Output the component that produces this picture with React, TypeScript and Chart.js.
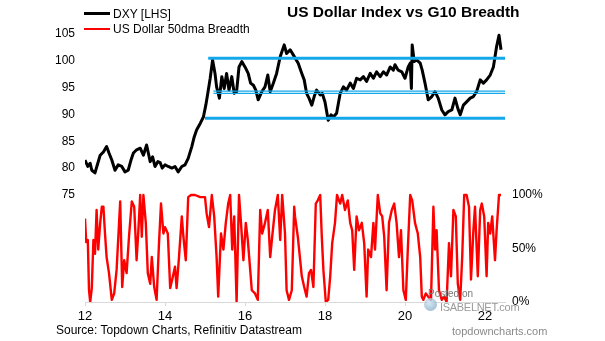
import React, { useEffect, useRef } from "react";
import { Chart, registerables } from "chart.js";

Chart.register(...registerables);

const FONT = "'Liberation Sans', Arial, Helvetica, sans-serif";

// ---- DXY (left axis) ----
const dxyDates = [
  2012.00, 2012.07, 2012.13, 2012.17, 2012.25, 2012.32, 2012.38, 2012.46, 2012.54, 2012.60,
  2012.67, 2012.75, 2012.83, 2012.92, 2013.00, 2013.08, 2013.15, 2013.21, 2013.29, 2013.38,
  2013.46, 2013.54, 2013.63, 2013.69, 2013.75, 2013.82, 2013.88, 2013.93, 2014.00, 2014.08,
  2014.17, 2014.25, 2014.33, 2014.42, 2014.50, 2014.58, 2014.67, 2014.73, 2014.79, 2014.88,
  2014.96, 2015.02, 2015.07, 2015.13, 2015.19, 2015.25, 2015.29, 2015.36, 2015.42, 2015.48,
  2015.54, 2015.60, 2015.67, 2015.73, 2015.79, 2015.85, 2015.92, 2016.00, 2016.08, 2016.14,
  2016.21, 2016.27, 2016.33, 2016.42, 2016.50, 2016.57, 2016.63, 2016.71, 2016.79, 2016.88,
  2016.98, 2017.04, 2017.13, 2017.21, 2017.33, 2017.42, 2017.48, 2017.54, 2017.60, 2017.67,
  2017.73, 2017.79, 2017.88, 2017.93, 2018.00, 2018.08, 2018.15, 2018.21, 2018.29, 2018.38,
  2018.46, 2018.54, 2018.63, 2018.71, 2018.79, 2018.88, 2018.96, 2019.04, 2019.13, 2019.21,
  2019.29, 2019.38, 2019.46, 2019.54, 2019.63, 2019.71, 2019.75, 2019.83, 2019.92, 2020.00,
  2020.08, 2020.13, 2020.16, 2020.18, 2020.23, 2020.29, 2020.38, 2020.43, 2020.50, 2020.58,
  2020.67, 2020.75, 2020.83, 2020.92, 2021.00, 2021.08, 2021.17, 2021.25, 2021.32, 2021.38,
  2021.46, 2021.54, 2021.63, 2021.71, 2021.79, 2021.88, 2021.96, 2022.04, 2022.13, 2022.21,
  2022.29, 2022.35, 2022.40,
];
const dxyValues = [
  81.5, 80.3, 80.9, 79.6, 79.1, 80.9, 82.4, 83.0, 84.0, 82.8,
  81.5, 79.6, 80.6, 80.3, 79.3, 79.6, 81.5, 82.8, 83.4, 83.7,
  82.4, 84.3, 81.2, 82.1, 80.3, 81.2, 81.0, 80.0, 80.6, 80.3,
  80.0, 80.3, 79.3, 80.3, 80.6, 81.8, 84.0, 85.8, 87.1, 88.3,
  89.5, 91.7, 93.9, 96.7, 100.1, 97.6, 95.1, 93.0, 97.0, 94.8,
  97.6, 94.5, 97.0, 93.9, 94.2, 98.8, 99.8, 98.8, 97.6, 95.8,
  95.4, 94.5, 92.7, 94.2, 95.1, 97.3, 94.2, 95.8, 97.6, 100.7,
  102.9, 101.3, 102.0, 101.0, 99.5, 97.6, 96.4, 93.9, 93.0, 91.7,
  93.3, 94.5, 93.6, 93.9, 92.3, 88.9, 89.9, 89.5, 90.2, 93.9,
  95.1, 94.5, 95.8, 94.8, 96.7, 96.4, 97.0, 96.1, 97.6, 96.7,
  97.9, 97.0, 97.9, 97.3, 98.8, 98.2, 99.2, 98.2, 97.9, 96.7,
  98.8, 99.5, 94.8, 102.9, 99.8, 100.1, 99.5, 98.2, 95.8, 92.7,
  93.3, 94.2, 93.0, 90.8, 89.9, 90.5, 90.8, 93.0, 91.1, 89.9,
  91.7, 92.3, 93.0, 93.3, 94.2, 96.4, 95.8, 96.4, 97.3, 98.8,
  102.6, 104.7, 102.0,
];

// ---- US Dollar 50dma Breadth (right axis, %) ----
const breadthDates = [
  2012.00, 2012.03, 2012.07, 2012.10, 2012.13, 2012.17, 2012.21, 2012.25, 2012.29, 2012.33,
  2012.38, 2012.42, 2012.46, 2012.50, 2012.54, 2012.60, 2012.67, 2012.73, 2012.79, 2012.88,
  2012.93, 2012.98, 2013.04, 2013.10, 2013.17, 2013.23, 2013.29, 2013.33, 2013.38, 2013.42,
  2013.46, 2013.52, 2013.57, 2013.63, 2013.67, 2013.73, 2013.79, 2013.85, 2013.90, 2013.96,
  2014.00, 2014.07, 2014.13, 2014.18, 2014.25, 2014.29, 2014.35, 2014.42, 2014.46, 2014.52,
  2014.58, 2014.65, 2014.75, 2014.88, 2015.00, 2015.04, 2015.10, 2015.17, 2015.23, 2015.29,
  2015.33, 2015.40, 2015.46, 2015.52, 2015.58, 2015.63, 2015.68, 2015.73, 2015.79, 2015.85,
  2015.90, 2015.96, 2016.02, 2016.07, 2016.13, 2016.17, 2016.25, 2016.32, 2016.38, 2016.43,
  2016.50, 2016.57, 2016.63, 2016.68, 2016.75, 2016.82, 2016.88, 2016.93, 2017.00, 2017.04,
  2017.10, 2017.17, 2017.23,
  2017.25, 2017.32, 2017.38, 2017.42, 2017.48, 2017.54, 2017.60, 2017.65, 2017.71, 2017.77,
  2017.82, 2017.88, 2017.92, 2017.96, 2018.02, 2018.08, 2018.13, 2018.18, 2018.25, 2018.30,
  2018.38, 2018.43, 2018.50, 2018.57, 2018.63, 2018.68, 2018.73, 2018.79, 2018.85, 2018.92,
  2018.98, 2019.04, 2019.08, 2019.15, 2019.21, 2019.25, 2019.32, 2019.38, 2019.43, 2019.48,
  2019.54, 2019.60, 2019.67, 2019.73, 2019.79, 2019.85, 2019.90, 2019.96, 2020.02, 2020.07,
  2020.13, 2020.18, 2020.25, 2020.32, 2020.38, 2020.42, 2020.46, 2020.52, 2020.58, 2020.65,
  2020.71, 2020.75, 2020.79, 2020.85, 2020.92, 2020.98, 2021.04, 2021.10, 2021.15, 2021.21,
  2021.27, 2021.32, 2021.38, 2021.43, 2021.48, 2021.54, 2021.60, 2021.65, 2021.71, 2021.75,
  2021.82, 2021.88, 2021.92, 2021.98, 2022.04, 2022.08, 2022.13, 2022.18, 2022.25, 2022.29,
  2022.35, 2022.40,
];
const breadthValues = [
  78, 56, 58, 11, 0, 13, 58, 45, 86, 49,
  74, 89, 89, 64, 42, 27, 2, 8, 30, 94,
  14, 39, 27, 61, 94, 89, 39, 64, 100, 61,
  100, 74, 27, 17, 42, 14, 2, 55, 92, 64,
  70, 64, 13, 21, 33, 13, 42, 80, 61, 39,
  98, 100, 100, 98, 98, 83, 70, 100, 80, 42,
  5, 64, 49, 74, 92, 100, 49, 80, 0, 100,
  74, 39, 74, 58, 30, 11, 8, 2, 86, 64,
  74, 86, 42, 61, 86, 100, 58, 100, 64, 11,
  2, 11, 89,
  80, 61, 39, 24, 14, 5, 27, 30, 14, 92,
  95, 100, 61, 30, 0, 2, 24, 55, 74, 100,
  92, 100, 86, 95, 74, 67, 30, 80, 67, 74,
  55, 5, 49, 42, 74, 49, 100, 83, 80, 61,
  11, 74, 86, 92, 74, 42, 67, 11, 2, 49,
  100, 95, 74, 64, 42, 5, 2, 8, 5, 2,
  89, 49, 67, 11, 2, 5, 0, 55, 24, 86,
  80, 17, 2, 42, 100, 100, 89, 21, 67, 89,
  24, 86, 92, 80, 24, 74, 64, 80, 39, 67,
  100, 100,
];

// ---- horizontal support / resistance levels ----
const levelValues = [100.4, 94.3, 93.9, 89.25];
const levelStarts = [2015.08, 2015.21, 2015.21, 2015.0];
const levelEnd = 2022.5;

// ---- ticks ----
const xTicks = [2012, 2014, 2016, 2018, 2020, 2022];
const leftTicks = [75, 80, 85, 90, 95, 100, 105];
const rightTicks = [0, 50, 100];

const BLUE = "#14A8EA";

export default function App() {
  const ref = useRef<HTMLCanvasElement>(null);

  useEffect(() => {
    const canvas = ref.current;
    if (!canvas) return;

    const levelSets = levelValues.map((v, i) => ({
      type: "line" as const,
      data: [
        { x: levelStarts[i], y: v },
        { x: levelEnd, y: v },
      ],
      yAxisID: "y",
      borderColor: BLUE,
      borderWidth: i === 0 || i === levelValues.length - 1 ? 3 : 1.3,
      pointRadius: 0,
      tension: 0,
    }));

    const chart = new Chart(canvas, {
      type: "line",
      data: {
        datasets: [
          ...levelSets,
          {
            label: "DXY [LHS]",
            data: dxyDates.map((d, i) => ({ x: d, y: dxyValues[i] })),
            yAxisID: "y",
            borderColor: "#000000",
            borderWidth: 3,
            pointRadius: 0,
            tension: 0,
            borderJoinStyle: "round",
          },
          {
            label: "US Dollar 50dma Breadth",
            data: breadthDates.map((d, i) => ({ x: d, y: breadthValues[i] })),
            yAxisID: "y2",
            borderColor: "#FF0000",
            borderWidth: 2.4,
            pointRadius: 0,
            tension: 0,
            borderJoinStyle: "round",
          },
        ],
      },
      options: {
        responsive: false,
        maintainAspectRatio: false,
        animation: false,
        devicePixelRatio: 1,
        layout: { padding: { top: 28, left: 0, right: 0, bottom: 0 } },
        plugins: {
          legend: { display: false },
          tooltip: { enabled: false },
          title: { display: false },
        },
        scales: {
          x: {
            type: "linear",
            min: 2012,
            max: 2022.5,
            afterBuildTicks: (s: any) => {
              s.ticks = xTicks.map((v) => ({ value: v }));
            },
            afterFit: (s: any) => {
              s.height = 39;
            },
            grid: {
              drawOnChartArea: false,
              drawTicks: true,
              tickLength: 4,
              color: "#d9d9d9",
            },
            border: { display: true, color: "#d9d9d9", width: 1 },
            ticks: {
              padding: 3,
              autoSkip: false,
              maxRotation: 0,
              color: "#000000",
              font: { family: FONT, size: 13 },
              callback: (v: any) => String(Number(v) - 2000),
            },
          },
          y: {
            position: "left",
            min: 55.11,
            max: 106.04,
            afterBuildTicks: (s: any) => {
              s.ticks = leftTicks.map((v) => ({ value: v }));
            },
            afterFit: (s: any) => {
              s.width = 85;
            },
            grid: { display: false, drawTicks: false },
            border: { display: false },
            ticks: {
              padding: 10,
              color: "#000000",
              font: { family: FONT, size: 12 },
              callback: (v: any) => String(v),
            },
          },
          y2: {
            position: "right",
            min: 0,
            max: 256.1,
            afterBuildTicks: (s: any) => {
              s.ticks = rightTicks.map((v) => ({ value: v }));
            },
            afterFit: (s: any) => {
              s.width = 100;
            },
            grid: { display: false, drawTicks: false },
            border: { display: false },
            ticks: {
              padding: 7,
              color: "#000000",
              font: { family: FONT, size: 12 },
              callback: (v: any) => `${v}%`,
            },
          },
        },
      },
    });

    return () => chart.destroy();
  }, []);

  const abs = (extra: React.CSSProperties): React.CSSProperties => ({
    position: "absolute",
    whiteSpace: "nowrap",
    fontFamily: FONT,
    lineHeight: "14px",
    ...extra,
  });

  return (
    <div
      style={{
        position: "absolute",
        left: 0,
        top: 0,
        width: 605,
        height: 341,
        background: "#ffffff",
        overflow: "hidden",
      }}
    >
      <canvas
        ref={ref}
        width={605}
        height={341}
        style={{ position: "absolute", left: 0, top: 0, width: 605, height: 341 }}
      />
      {/* title */}
      <div
        style={abs({
          left: 287,
          top: 3,
          fontSize: 15.5,
          fontWeight: "bold",
          lineHeight: "18px",
          color: "#000",
        })}
      >
        US Dollar Index vs G10 Breadth
      </div>
      {/* legend */}
      <div style={abs({ left: 84, top: 12, width: 26, height: 2.5, background: "#000" })} />
      <div style={abs({ left: 113, top: 6.5, fontSize: 12, color: "#000" })}>DXY [LHS]</div>
      <div style={abs({ left: 84, top: 27.8, width: 26, height: 2.5, background: "#FF0000" })} />
      <div style={abs({ left: 113, top: 22.2, fontSize: 12, color: "#000" })}>
        US Dollar 50dma Breadth
      </div>
      {/* watermark */}
      <div
        style={abs({
          left: 424,
          top: 298,
          width: 13,
          height: 13,
          borderRadius: "50%",
          background: "radial-gradient(circle at 40% 35%, #cfe6f5, #8fb3cc 70%, #c8c8c8)",
          opacity: 0.8,
        })}
      />
      <div style={abs({ left: 428, top: 287, fontSize: 10, color: "#777" })}>Posted on</div>
      <div style={abs({ left: 440, top: 300, fontSize: 11, color: "#9a9a9a", letterSpacing: -0.3 })}>
        ISABELNET.com
      </div>
      {/* source */}
      <div style={abs({ left: 56, top: 323, fontSize: 12, color: "#000" })}>
        Source: Topdown Charts, Refinitiv Datastream
      </div>
      <div style={abs({ left: 452, top: 324, fontSize: 11, color: "#8a8a8a" })}>
        topdowncharts.com
      </div>
    </div>
  );
}
